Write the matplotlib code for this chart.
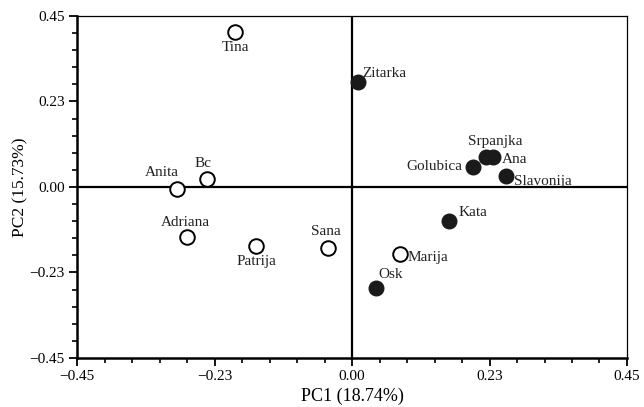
import matplotlib
matplotlib.use("Agg")
import matplotlib.pyplot as plt
import numpy as np
from matplotlib.ticker import MultipleLocator, FixedLocator

plt.rcParams['font.family'] = ['Liberation Serif', 'DejaVu Serif']

names = ['Tina', 'Bc', 'Anita', 'Adriana', 'Patrija', 'Sana', 'Marija',
         'Zitarka', 'Srpanjka', 'Ana', 'Golubica', 'Slavonija', 'Kata', 'Osk']
pc1 = [-0.191, -0.237, -0.286, -0.270, -0.157, -0.040, 0.078,
       0.010, 0.219, 0.231, 0.198, 0.252, 0.159, 0.039]
pc2 = [0.408, 0.021, -0.005, -0.131, -0.155, -0.160, -0.177,
       0.276, 0.079, 0.079, 0.053, 0.030, -0.089, -0.267]
filled = [False, False, False, False, False, False, False,
          True, True, True, True, True, True, True]

# label offsets in points and alignment
label_style = {
    'Tina': ((0, -11.5), 'center'),
    'Bc': ((-3, 11.5), 'center'),
    'Anita': ((-11, 11.5), 'center'),
    'Adriana': ((-1.5, 10), 'center'),
    'Patrija': ((0, -11.5), 'center'),
    'Sana': ((-1.5, 11.5), 'center'),
    'Marija': ((5.5, -2), 'left'),
    'Zitarka': ((3, 6), 'left'),
    'Srpanjka': ((6.5, 11), 'center'),
    'Ana': ((6.5, -1.5), 'left'),
    'Golubica': ((-8, 0), 'right'),
    'Slavonija': ((6, -4.5), 'left'),
    'Kata': ((7, 6), 'left'),
    'Osk': ((1.5, 10), 'left'),
}

xticks = [-0.45, -0.225, 0.0, 0.225, 0.45]
xticklabels = ['\u22120.45', '\u22120.23', '0.00', '0.23', '0.45']
yticks = [-0.45, -0.225, 0.0, 0.225, 0.45]
yticklabels = ['\u22120.45', '\u22120.23', '0.00', '0.23', '0.45']

fig = plt.figure(figsize=(6.44, 4.07), dpi=100)
ax = fig.add_axes([0.1196, 0.1204, 0.854, 0.8403])

ax.axhline(0, color='black', lw=1.6, zorder=1)
ax.axvline(0, color='black', lw=1.6, zorder=1)

for n, x, y, f in zip(names, pc1, pc2, filled):
    if f:
        ax.plot(x, y, 'o', ms=10.5, mfc='#1a1a1a', mec='#1a1a1a', mew=1.0, zorder=3)
    else:
        ax.plot(x, y, 'o', ms=10.5, mfc='white', mec='black', mew=1.4, zorder=3)
    (dx, dy), ha = label_style[n]
    ax.annotate(n, (x, y), xytext=(dx, dy), textcoords='offset points',
                ha=ha, va='center', fontsize=11, color='#222222', zorder=4)

ax.set_xlim(-0.45, 0.45)
ax.set_ylim(-0.45, 0.45)
ax.xaxis.set_major_locator(FixedLocator(xticks))
ax.yaxis.set_major_locator(FixedLocator(yticks))
ax.set_xticklabels(xticklabels)
ax.set_yticklabels(yticklabels)
ax.xaxis.set_minor_locator(MultipleLocator(0.045))
ax.yaxis.set_minor_locator(MultipleLocator(0.045))
ax.tick_params(which='major', direction='out', length=6, width=1.3, labelsize=11, pad=3)
ax.tick_params(which='minor', direction='out', length=3.5, width=1.2)

ax.spines['left'].set_linewidth(1.8)
ax.spines['bottom'].set_linewidth(1.8)
ax.spines['top'].set_linewidth(0.9)
ax.spines['right'].set_linewidth(0.9)

ax.set_xlabel('PC1 (18.74%)', fontsize=13, labelpad=3)
ax.set_ylabel('PC2 (15.73%)', fontsize=12.5, labelpad=0.5)

fig.savefig('out.png', dpi=100)
